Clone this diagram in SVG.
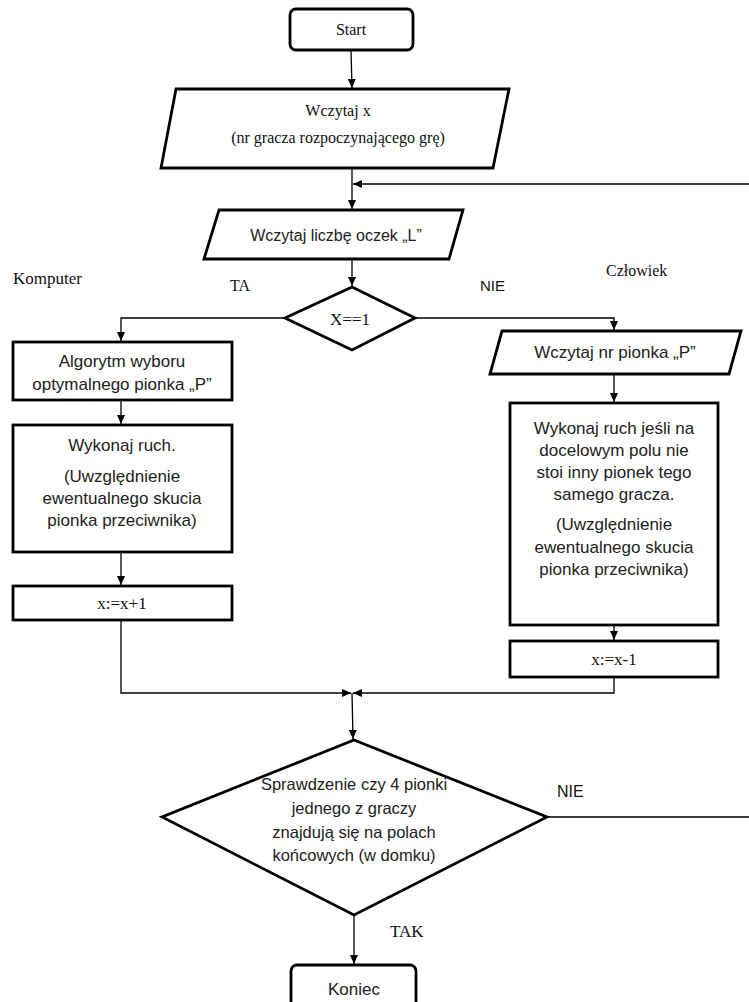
<svg xmlns="http://www.w3.org/2000/svg" width="749" height="1002" viewBox="0 0 749 1002">
<style>
.n{fill:#fff;stroke:#000;stroke-width:2.8}
.c{fill:none;stroke:#000;stroke-width:1.3}
.s{font-family:"Liberation Sans",Arial,sans-serif;font-size:17px;fill:#222;text-anchor:middle}
.t{font-family:"Liberation Serif","Times New Roman",serif;font-size:16px;fill:#111;text-anchor:middle}
.l{font-family:"Liberation Serif","Times New Roman",serif;font-size:16px;fill:#111}
.ls{font-family:"Liberation Sans",Arial,sans-serif;font-size:15px;fill:#111}
</style>
<defs>
<marker id="a" markerWidth="10" markerHeight="10" refX="9" refY="5" orient="auto" markerUnits="userSpaceOnUse">
<path d="M0,1 L9,5 L0,9 z" fill="#000"/>
</marker>
</defs>
<rect width="749" height="1002" fill="#fff"/>
<g id="connectors">
<line class="c" x1="351" y1="50" x2="352" y2="88" marker-end="url(#a)"/>
<line class="c" x1="352" y1="168" x2="352" y2="209" marker-end="url(#a)"/>
<line class="c" x1="749" y1="184" x2="353" y2="184" marker-end="url(#a)"/>
<line class="c" x1="352" y1="259" x2="352" y2="286" marker-end="url(#a)"/>
<polyline class="c" points="285,318 121,318 121,341" marker-end="url(#a)"/>
<polyline class="c" points="415,318 614,318 614,330" marker-end="url(#a)"/>
<line class="c" x1="121" y1="400" x2="121" y2="424" marker-end="url(#a)"/>
<line class="c" x1="121" y1="552" x2="121" y2="585" marker-end="url(#a)"/>
<polyline class="c" points="121,620 121,693 351,693" marker-end="url(#a)"/>
<line class="c" x1="614" y1="374" x2="614" y2="402" marker-end="url(#a)"/>
<line class="c" x1="614" y1="625" x2="614" y2="640" marker-end="url(#a)"/>
<polyline class="c" points="614,677 614,693 353,693" marker-end="url(#a)"/>
<line class="c" x1="352" y1="693" x2="353" y2="739" marker-end="url(#a)"/>
<line class="c" x1="547" y1="817" x2="749" y2="817"/>
<line class="c" x1="354" y1="915" x2="354" y2="964" marker-end="url(#a)"/>
</g>
<g id="start">
<rect class="n" x="290" y="9" width="123" height="41" rx="6"/>
<text class="t" x="351" y="35">Start</text>
</g>
<g id="read-x">
<polygon class="n" points="176,89 509,89 493,168 161,168"/>
<text class="t" x="338" y="116">Wczytaj x</text>
<text class="t" x="338" y="143">(nr gracza rozpoczynającego grę)</text>
</g>
<g id="read-l">
<polygon class="n" points="219,210 463,210 449,259 204,259"/>
<text class="s" x="336" y="241" style="font-size:16px">Wczytaj liczbę oczek „L”</text>
</g>
<g id="decision-x">
<polygon class="n" points="352,287 415,318 352,350 285,318"/>
<text class="t" x="350" y="325" style="font-size:17px">X==1</text>
</g>
<g id="labels">
<text class="l" x="13" y="284" style="font-size:17px">Komputer</text>
<text class="l" x="230" y="291">TA</text>
<text class="ls" x="480" y="291">NIE</text>
<text class="l" x="606" y="276">Człowiek</text>
<text class="ls" x="557" y="797" style="font-size:16px">NIE</text>
<text class="l" x="390" y="937" style="font-size:17px">TAK</text>
</g>
<g id="algorithm">
<rect class="n" x="13" y="342" width="219" height="58"/>
<text class="s" x="122" y="367">Algorytm wyboru</text>
<text class="s" x="122" y="390">optymalnego pionka „P”</text>
</g>
<g id="move-left">
<rect class="n" x="13" y="425" width="219" height="127"/>
<text class="s" x="122" y="451">Wykonaj ruch.</text>
<text class="s" x="122" y="482">(Uwzględnienie</text>
<text class="s" x="122" y="504">ewentualnego skucia</text>
<text class="s" x="122" y="526">pionka przeciwnika)</text>
</g>
<g id="inc">
<rect class="n" x="13" y="586" width="219" height="34"/>
<text class="t" x="122" y="609" style="font-size:17px">x:=x+1</text>
</g>
<g id="read-p">
<polygon class="n" points="502,331 741,331 729,374 490,374"/>
<text class="s" x="615" y="358">Wczytaj nr pionka „P”</text>
</g>
<g id="move-right">
<rect class="n" x="510" y="403" width="208" height="222"/>
<text class="s" x="614" y="434">Wykonaj ruch jeśli na</text>
<text class="s" x="614" y="456">docelowym polu nie</text>
<text class="s" x="614" y="478">stoi inny pionek tego</text>
<text class="s" x="614" y="500">samego gracza.</text>
<text class="s" x="614" y="530">(Uwzględnienie</text>
<text class="s" x="614" y="553">ewentualnego skucia</text>
<text class="s" x="614" y="575">pionka przeciwnika)</text>
</g>
<g id="dec">
<rect class="n" x="510" y="641" width="208" height="36"/>
<text class="t" x="614" y="665" style="font-size:17px">x:=x-1</text>
</g>
<g id="check">
<polygon class="n" points="354,740 547,817 354,915 162,817"/>
<text class="s" x="354" y="790" style="font-size:16.5px">Sprawdzenie czy 4 pionki</text>
<text class="s" x="354" y="814" style="font-size:16.5px">jednego z graczy</text>
<text class="s" x="354" y="838" style="font-size:16.5px">znajdują się na polach</text>
<text class="s" x="354" y="861" style="font-size:16.5px">końcowych (w domku)</text>
</g>
<g id="end">
<rect class="n" x="291" y="965" width="125" height="46" rx="6"/>
<text class="s" x="354" y="995">Koniec</text>
</g>
</svg>
